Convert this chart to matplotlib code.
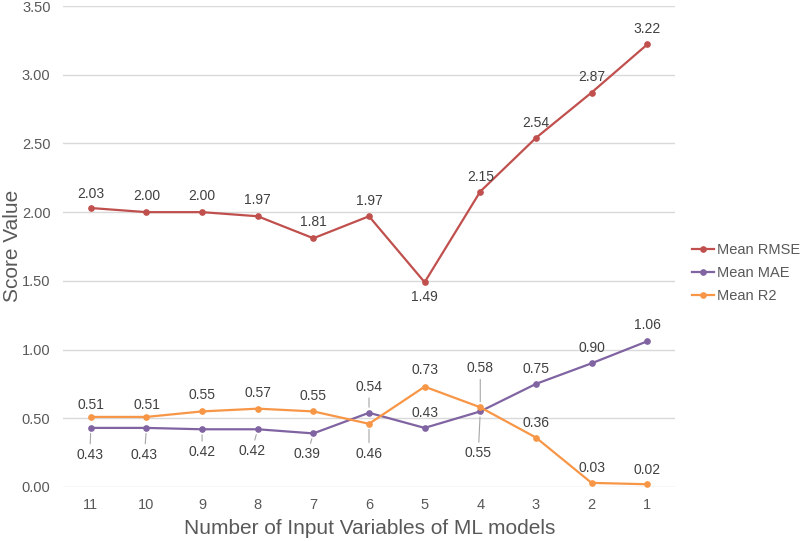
import matplotlib
matplotlib.use("Agg")
import matplotlib.pyplot as plt

plt.rcParams['font.family'] = ['Liberation Sans', 'DejaVu Sans']

categories = ["11", "10", "9", "8", "7", "6", "5", "4", "3", "2", "1"]
rmse = [2.03, 2.00, 2.00, 1.97, 1.81, 1.97, 1.49, 2.15, 2.54, 2.87, 3.22]
mae = [0.43, 0.43, 0.42, 0.42, 0.39, 0.54, 0.43, 0.55, 0.75, 0.90, 1.06]
r2 = [0.51, 0.51, 0.55, 0.57, 0.55, 0.46, 0.73, 0.58, 0.36, 0.03, 0.02]
series_names = ["Mean RMSE", "Mean MAE", "Mean R2"]
yticks = [0.0, 0.5, 1.0, 1.5, 2.0, 2.5, 3.0, 3.5]

colors = ["#C0504D", "#8064A2", "#F79646"]

# label offsets in pixels (dx, dy up positive), and whether to draw a leader
rmse_off = [(0, 14), (0, 16), (0, 16), (0, 16), (0, 16), (0, 15), (0, -15), (0, 15), (0, 15), (0, 16), (0, 15)]
mae_off = [(-1, -27), (-2, -27), (0, -23), (-6, -22), (-6, -21), (0, 26), (0, 15), (-2, -42), (0, 15), (0, 15), (0, 16)]
mae_lead = [True, True, True, True, True, True, False, True, False, False, False]
r2_off = [(0, 12), (0, 12), (0, 16), (0, 16), (0, 15), (0, -30), (0, 17), (0, 39), (0, 15), (0, 15), (0, 14)]
r2_lead = [False, False, False, False, False, True, False, True, False, False, False]

fig = plt.figure(figsize=(8.0, 5.41), dpi=100)
ax = fig.add_axes([63/800, 1-487/541, (675-63)/800, (487-6)/541])

x = list(range(len(categories)))
for vals, c, name in zip([rmse, mae, r2], colors, series_names):
    ax.plot(x, vals, color=c, lw=1.6, marker='o', ms=3.8, label=name, zorder=3)

px2pt = 72/100
txtc = "#404040"

def label(vals, offs, leads=None):
    for i, v in enumerate(vals):
        dx, dy = offs[i]
        lead = leads[i] if leads else False
        kw = {}
        if lead:
            kw['arrowprops'] = dict(arrowstyle='-', color='#A6A6A6', lw=0.8,
                                    shrinkA=1, shrinkB=4)
        ax.annotate(f"{v:.2f}", xy=(i, v), xytext=(dx*px2pt, dy*px2pt),
                    textcoords='offset points', ha='center', va='center',
                    fontsize=10, color=txtc, zorder=4, **kw)

label(rmse, rmse_off)
label(mae, mae_off, mae_lead)
label(r2, r2_off, r2_lead)

ax.set_xlim(-0.5, len(categories) - 0.5)
ax.set_ylim(0, 3.5)
ax.set_yticks(yticks)
ax.set_yticklabels([f"{t:.2f}" for t in yticks])
ax.set_xticks(x)
ax.set_xticklabels(categories)
ax.tick_params(axis='both', length=0, labelsize=10.5, colors="#595959")
ax.tick_params(axis='y', pad=9)
ax.tick_params(axis='x', pad=8)
ax.grid(axis='y', color='#D9D9D9', lw=1)
ax.set_axisbelow(True)
for s in ax.spines.values():
    s.set_visible(False)

fig.text(370/800, 1-529/541, "Number of Input Variables of ML models", ha='center', va='center',
         fontsize=15, color="#595959")
fig.text(13/800, 1-246/541, "Score Value", ha='center', va='center', rotation=90,
         fontsize=15, color="#595959")

leg = fig.legend(loc='center left', bbox_to_anchor=(692/800, 1-273/541), frameon=False,
                 fontsize=10.5, handlelength=1.5, handletextpad=0.2, labelspacing=0.6,
                 borderpad=0, borderaxespad=0)
for t in leg.get_texts():
    t.set_color("#595959")

fig.savefig("out.png", dpi=100)
